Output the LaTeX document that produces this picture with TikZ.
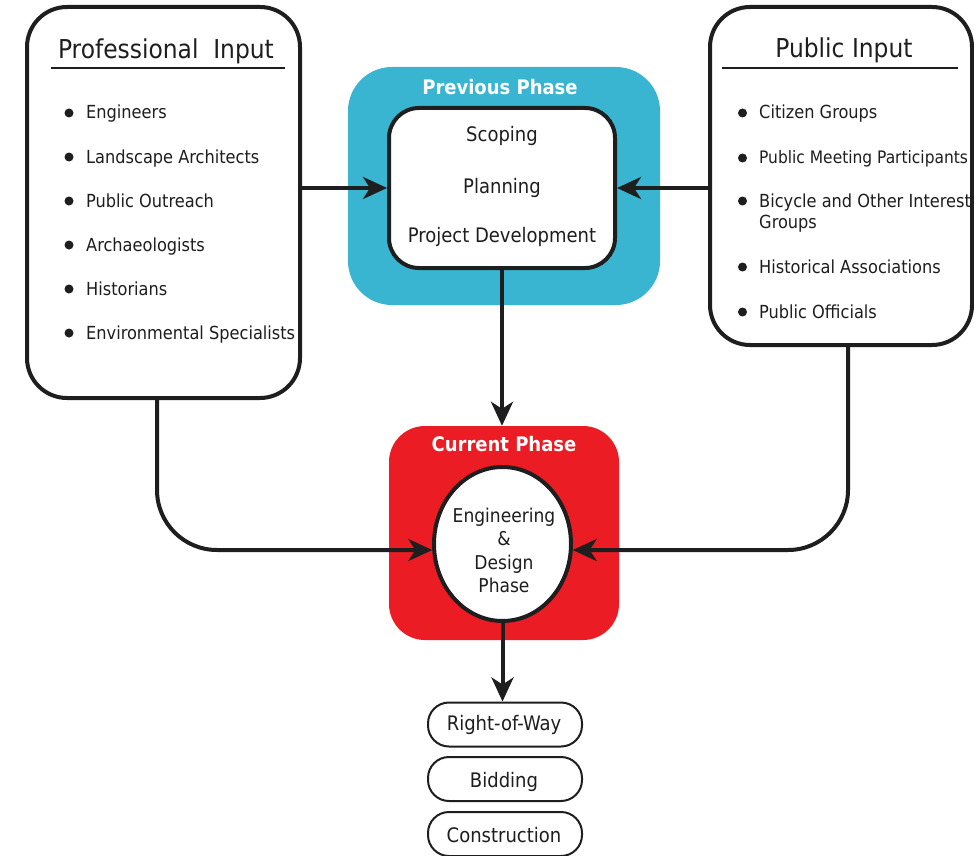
\documentclass[tikz,border=0pt]{standalone}
\usepackage{fontspec}
\setmainfont{DejaVu Sans Condensed}
\usetikzlibrary{arrows.meta,shapes.geometric,calc}
\definecolor{phaseblue}{RGB}{57,181,210}
\definecolor{phasered}{RGB}{236,28,36}
\definecolor{ink}{RGB}{30,30,30}
\begin{document}
\begin{tikzpicture}[x=1pt,y=-1pt,
  inputbox/.style={draw=ink, line width=4pt, rounded corners=40pt, fill=white, inner sep=0pt},
  phasebox/.style={rounded corners=44pt, inner sep=0pt},
  stagebox/.style={draw=ink, line width=4pt, rounded corners=30pt, fill=white, inner sep=0pt},
  pill/.style={draw=ink, line width=2pt, rounded corners=21pt, fill=white, inner sep=0pt, minimum width=154pt, minimum height=44pt},
  pilltext/.style={font=\fontsize{20}{24}\selectfont, text=ink, anchor=base, inner sep=0pt},
  conn/.style={line width=4pt, draw=ink, -{Stealth[length=24pt,width=22pt,inset=7pt]}},
  titletext/.style={font=\fontsize{26}{30}\selectfont, text=ink, anchor=base, inner sep=0pt},
  itemtext/.style={font=\fontsize{18}{21}\selectfont, text=ink, anchor=base west, inner sep=0pt},
  stagetext/.style={font=\fontsize{20}{24}\selectfont, text=ink, anchor=base, inner sep=0pt},
  engtext/.style={font=\fontsize{19}{23}\selectfont, text=ink, anchor=base, inner sep=0pt},
  phaselabel/.style={font=\fontsize{20}{24}\selectfont\bfseries, text=white, anchor=base, inner sep=0pt},
  bulletdot/.style={circle, fill=ink, inner sep=0pt, minimum size=9pt},
  rule/.style={line width=2pt, draw=ink}]
\useasboundingbox (0,0) rectangle (974,856);
\fill[white] (0,0) rectangle (974,856);

% input boxes
\node[inputbox, minimum width=273pt, minimum height=391pt] (prof) at (163.5,202.5) {};
\node[inputbox, minimum width=262pt, minimum height=338pt] (pub) at (841,176) {};

% phase boxes
\node[phasebox, fill=phaseblue, minimum width=312pt, minimum height=238pt] (prev) at (504,186) {};
\node[phasebox, fill=phasered, rounded corners=36pt, minimum width=230pt, minimum height=214pt] (cur) at (504,533) {};

\node[stagebox, minimum width=226pt, minimum height=160pt] (stage) at (502,188) {};
\node[ellipse, draw=ink, line width=4pt, fill=white, inner sep=0pt, minimum width=137pt, minimum height=154pt] (eng) at (502.5,544) {};

% labels in phases
\node[phaselabel] (prevlab) at (500,95) {Previous Phase};
\node[phaselabel] (curlab) at (504,451) {Current Phase};
\node[stagetext] (scop) at (502,142) {Scoping};
\node[stagetext] (plan) at (502,193) {Planning};
\node[stagetext] (pdev) at (502,242) {Project Development};
\node[engtext] (eng1) at (504,522) {Engineering};
\node[engtext] (eng2) at (504,545) {\&};
\node[engtext] (eng3) at (504,569) {Design};
\node[engtext] (eng4) at (504,592) {Phase};

% titles
\node[titletext] (proftitle) at (166,58.5) {Professional\ \ Input};
\draw[rule] (51,68) -- (285,68);
\node[titletext] (pubtitle) at (844,58) {Public Input};
\draw[rule] (722,68) -- (958,68);

% professional items
\foreach \t/\yy [count=\i] in {Engineers/119, Landscape Architects/163, Public Outreach/207, Archaeologists/251, Historians/295, Environmental Specialists/339}{
  \node[bulletdot] (pb\i) at (69,\yy-6) {};
  \node[itemtext] (pi\i) at (86,\yy) {\t};
}
% public items
\foreach \yy [count=\i] in {119, 164, 207, 273, 318}{
  \node[bulletdot] (ub\i) at (742.5,\yy-6) {};
}
\node[itemtext] (ui1) at (759,119) {Citizen Groups};
\node[itemtext, font=\fontsize{17.2}{21}\selectfont] (ui2) at (759,164) {Public Meeting Participants};
\node[itemtext] (ui3) at (759,207) {Bicycle and Other Interest};
\node[itemtext] (ui3b) at (759,228) {Groups};
\node[itemtext] (ui4) at (759,273) {Historical Associations};
\node[itemtext] (ui5) at (759,318) {Public Officials};

% later stages
\node[pill] (row) at (505,724.5) {};
\node[pill] (bid) at (505,779) {};
\node[pill] (cons) at (505,834) {};
\node[pilltext] (rowt) at (504,730) {Right-of-Way};
\node[pilltext] (bidt) at (504,787) {Bidding};
\node[pilltext] (const) at (504,842) {Construction};

% connectors
\coordinate (profout) at (157,398);
\coordinate (pubout) at (848,345);
\coordinate (engL) at ($(eng.west)+(0.3,6)$);
\coordinate (engR) at ($(eng.east)+(-0.3,6)$);
\draw[conn] (prof.east |- stage.west) -- (stage.west);
\draw[conn] (pub.west |- stage.east) -- (stage.east);
\draw[conn] (stage.south) -- (stage.south |- cur.north);
\draw[conn, rounded corners=60pt] (profout) |- (engL);
\draw[conn, rounded corners=60pt] (pubout) |- (engR);
\draw[conn] (eng.south) -- (eng.south |- row.north);
\end{tikzpicture}
\end{document}
